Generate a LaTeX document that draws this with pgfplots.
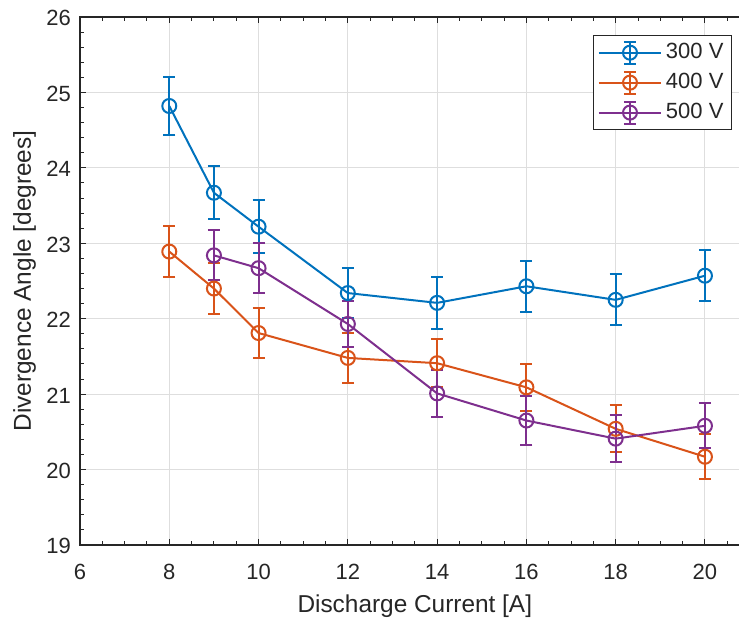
\documentclass[border=0pt]{standalone}
\usepackage{fontspec}
\setmainfont{Liberation Sans}
\usepackage{pgfplots}
\pgfplotsset{compat=1.18}
\definecolor{mblue}{rgb}{0,0.447,0.741}
\definecolor{morange}{rgb}{0.85,0.325,0.098}
\definecolor{mpurple}{rgb}{0.494,0.184,0.556}
\definecolor{mtext}{rgb}{0.15,0.15,0.15}
\pgfplotsset{mstyle/.style={color=#1, line width=1pt, mark=o, mark size=3.5pt, mark options={solid},
  error bars/.cd, y dir=both, y explicit,
  error bar style={line width=1pt, color=#1},
  error mark options={rotate=90, mark size=3pt, line width=1pt, color=#1}}}
\begin{document}
\begin{tikzpicture}
\path[use as bounding box] (-40pt,-37pt) rectangle (329.5pt,272.5pt);
\begin{axis}[
  at={(0,0)}, anchor=south west,
  scale only axis, width=334.8pt, height=264pt,
  xmin=6, xmax=21, ymin=19, ymax=26,
  xtick={6,8,...,20}, ytick={19,20,...,26},
  minor x tick num=3, minor y tick num=4,
  extra x ticks={20.5}, extra x tick labels={}, extra x tick style={grid=none, major tick length=2pt},
  tick align=inside, major tick length=3pt, minor tick length=2pt,
  grid=major, major grid style={black!13, line width=0.5pt},
  axis line style={mtext, line width=0.6pt},
  every tick/.style={mtext, line width=0.5pt},
  tick label style={font=\fontsize{11}{13}\selectfont, text=mtext},
  /pgf/number format/assume math mode=true,
  xticklabel style={anchor=base, yshift=-17.5pt},
  yticklabel style={xshift=-1pt, yshift=-0.7pt},
  label style={font=\fontsize{12.2}{14}\selectfont, text=mtext},
  xlabel={Discharge Current [A]},
  ylabel={Divergence Angle [degrees]},
  xlabel style={at={(axis description cs:0.5,-0.128)}, anchor=base},
  ylabel style={at={(axis description cs:-0.0732,0.5)}, anchor=base, rotate=0},
  legend style={at={(0.9737,0.9659)}, anchor=north east, font=\fontsize{11}{13}\selectfont,
    text=mtext, draw=mtext, line width=0.5pt, inner xsep=2pt, inner ysep=2pt,
    row sep=1.8pt},
  legend cell align=left,
  legend image code/.code={
    \draw[#1, mark=none] (0pt,0pt) -- (31pt,0pt);
    \draw[#1, mark=none] (15.5pt,-5.5pt) -- (15.5pt,5.5pt) (12.5pt,-5.5pt) -- (18.5pt,-5.5pt) (12.5pt,5.5pt) -- (18.5pt,5.5pt);
    \draw[mark repeat=2,mark phase=2,#1] plot coordinates {(0pt,0pt) (15.5pt,0pt) (31pt,0pt)};
  },
]
\addplot[mstyle=mblue] coordinates {
  (8,24.82) +- (0,0.38)
  (9,23.67) +- (0,0.35)
  (10,23.22) +- (0,0.35)
  (12,22.34) +- (0,0.33)
  (14,22.21) +- (0,0.34)
  (16,22.43) +- (0,0.34)
  (18,22.25) +- (0,0.34)
  (20,22.57) +- (0,0.34)
};
\addlegendentry{300 V}
\addplot[mstyle=morange] coordinates {
  (8,22.89) +- (0,0.34)
  (9,22.40) +- (0,0.34)
  (10,21.81) +- (0,0.33)
  (12,21.48) +- (0,0.33)
  (14,21.41) +- (0,0.32)
  (16,21.09) +- (0,0.31)
  (18,20.54) +- (0,0.31)
  (20,20.17) +- (0,0.30)
};
\addlegendentry{400 V}
\addplot[mstyle=mpurple] coordinates {
  (9,22.84) +- (0,0.33)
  (10,22.67) +- (0,0.33)
  (12,21.93) +- (0,0.31)
  (14,21.01) +- (0,0.31)
  (16,20.65) +- (0,0.32)
  (18,20.41) +- (0,0.31)
  (20,20.58) +- (0,0.30)
};
\addlegendentry{500 V}
\end{axis}
\end{tikzpicture}
\end{document}
